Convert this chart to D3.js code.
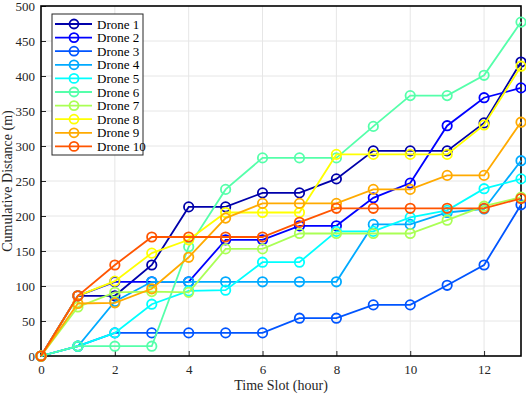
<!DOCTYPE html>
<html>
<head>
<meta charset="utf-8">
<script src="https://cdn.jsdelivr.net/npm/d3@7"></script>
<style>
  body { margin: 0; background: #fff; }
  svg { display: block; font-family: "Liberation Serif", "Times New Roman", serif; }
</style>
</head>
<body>
<script>
const width = 526;
const height = 394;
const margin = { top: 6, right: 4, bottom: 38, left: 41 };

const timeSlots = [0, 1, 2, 3, 4, 5, 6, 7, 8, 9, 10, 11, 12, 13];
const droneNames = ["Drone 1", "Drone 2", "Drone 3", "Drone 4", "Drone 5",
  "Drone 6", "Drone 7", "Drone 8", "Drone 9", "Drone 10"];
const droneColors = ["#0000aa", "#0000ff", "#0055ff", "#00aaff", "#00ffff",
  "#55ffaa", "#aaff55", "#ffff00", "#ffaa00", "#ff5500"];

const drone1 = [0, 86, 86, 130, 213, 213, 233, 233, 253, 293, 293, 293, 333, 420];
const drone2 = [0, 86, 106, 106, 106, 166, 166, 186, 186, 226, 247, 329, 369, 383];
const drone3 = [0, 14, 33, 33, 33, 33, 33, 54, 54, 73, 73, 101, 130, 216];
const drone4 = [0, 14, 78, 106, 106, 106, 106, 106, 106, 188, 188, 205, 210, 279];
const drone5 = [0, 14, 33, 74, 93, 94, 134, 134, 178, 178, 198, 208, 239, 253];
const drone6 = [0, 14, 14, 14, 156, 238, 283, 283, 283, 328, 372, 372, 401, 477];
const drone7 = [0, 70, 91, 92, 91, 153, 153, 175, 175, 175, 175, 194, 214, 227];
const drone8 = [0, 86, 107, 147, 166, 205, 205, 205, 288, 288, 288, 288, 330, 414];
const drone9 = [0, 75, 76, 96, 141, 197, 218, 218, 218, 238, 238, 258, 258, 334];
const drone10 = [0, 86, 130, 170, 170, 170, 170, 191, 211, 211, 211, 211, 211, 225];

const allDrones = [drone1, drone2, drone3, drone4, drone5, drone6, drone7, drone8, drone9, drone10];

const xTicks = [0, 2, 4, 6, 8, 10, 12];
const yTicks = [0, 50, 100, 150, 200, 250, 300, 350, 400, 450, 500];

const svg = d3.select("body").append("svg")
  .attr("width", width)
  .attr("height", height);

const x = d3.scaleLinear().domain([0, 13]).range([margin.left, width - margin.right - 1]);
const y = d3.scaleLinear().domain([0, 500]).range([height - margin.bottom, margin.top]);

// grid
svg.append("g").selectAll("line.gx")
  .data(xTicks.slice(1))
  .join("line")
  .attr("x1", (d) => x(d)).attr("x2", (d) => x(d))
  .attr("y1", y(0)).attr("y2", y(500))
  .attr("stroke", "#e6e6e6").attr("stroke-width", 1);

svg.append("g").selectAll("line.gy")
  .data(yTicks.slice(1, -1))
  .join("line")
  .attr("x1", x(0)).attr("x2", x(13))
  .attr("y1", (d) => y(d)).attr("y2", (d) => y(d))
  .attr("stroke", "#e6e6e6").attr("stroke-width", 1);

// axes
const xAxis = svg.append("g")
  .attr("transform", `translate(0,${y(0)})`)
  .call(d3.axisBottom(x).tickValues(xTicks).tickSizeInner(-5).tickSizeOuter(0).tickPadding(9));
const yAxis = svg.append("g")
  .attr("transform", `translate(${x(0)},0)`)
  .call(d3.axisLeft(y).tickValues(yTicks).tickSizeInner(-5).tickSizeOuter(0).tickPadding(6));

[xAxis, yAxis].forEach((a) => {
  a.attr("font-family", null);
  a.select(".domain").remove();
  a.selectAll("text")
    .attr("fill", "#262626")
    .style("font-family", "'Liberation Serif', serif")
    .style("font-size", "13px");
  a.selectAll(".tick line").attr("stroke", "#262626");
});

// frame
svg.append("rect")
  .attr("x", x(0)).attr("y", y(500))
  .attr("width", x(13) - x(0)).attr("height", y(0) - y(500))
  .attr("fill", "none").attr("stroke", "#000").attr("stroke-width", 1.6);

// titles
svg.append("text")
  .attr("x", (x(0) + x(13)) / 2).attr("y", 390)
  .attr("text-anchor", "middle")
  .attr("fill", "#262626")
  .style("font-size", "14px")
  .text("Time Slot (hour)");

svg.append("text")
  .attr("transform", `translate(12,${(y(0) + y(500)) / 2}) rotate(-90)`)
  .attr("text-anchor", "middle")
  .attr("fill", "#262626")
  .style("font-size", "14px")
  .text("Cumulative Distance (m)");

// series
const line = d3.line().x((d, i) => x(timeSlots[i])).y((d) => y(d));

allDrones.forEach((values, k) => {
  const g = svg.append("g");
  g.append("path")
    .datum(values)
    .attr("d", line)
    .attr("fill", "none")
    .attr("stroke", droneColors[k])
    .attr("stroke-width", 1.8);
  g.selectAll("circle")
    .data(values)
    .join("circle")
    .attr("cx", (d, i) => x(timeSlots[i]))
    .attr("cy", (d) => y(d))
    .attr("r", 4.7)
    .attr("fill", "none")
    .attr("stroke", droneColors[k])
    .attr("stroke-width", 1.8);
});

// legend
const legend = svg.append("g").attr("transform", "translate(52,14)");
legend.append("rect")
  .attr("width", 91).attr("height", 141)
  .attr("fill", "#fff").attr("stroke", "#262626").attr("stroke-width", 1);

const item = legend.selectAll("g.item")
  .data(droneNames)
  .join("g")
  .attr("transform", (d, i) => `translate(0,${10 + i * 13.6})`);

item.append("line")
  .attr("x1", 3).attr("x2", 40)
  .attr("stroke", (d, i) => droneColors[i]).attr("stroke-width", 1.8);
item.append("circle")
  .attr("cx", 22).attr("r", 4.5)
  .attr("fill", "none")
  .attr("stroke", (d, i) => droneColors[i]).attr("stroke-width", 1.8);
item.append("text")
  .attr("x", 45).attr("dy", "0.35em")
  .attr("fill", "#000")
  .style("font-size", "13px")
  .text((d) => d);
</script>
</body>
</html>
